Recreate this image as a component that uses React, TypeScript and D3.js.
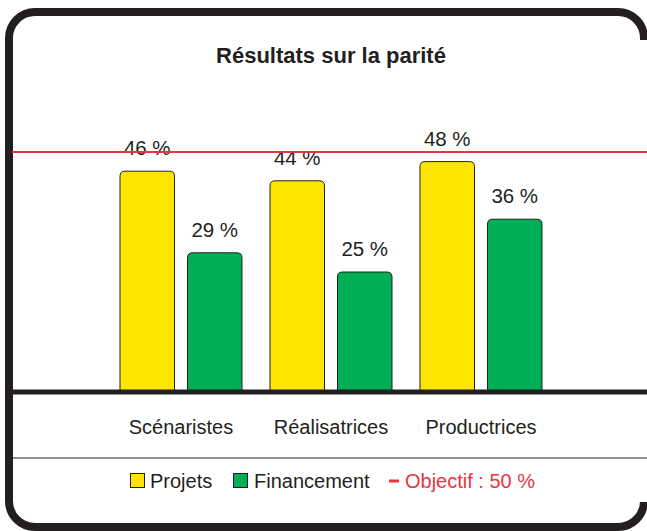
import React from 'react'
import * as d3 from 'd3'

const categories = ['Scénaristes', 'Réalisatrices', 'Productrices']
const seriesNames = ['Projets', 'Financement']
const projets = [46, 44, 48]
const financement = [29, 25, 36]
const objectif = 50
const title = 'Résultats sur la parité'
const objectifLabel = 'Objectif : 50 %'

const COLORS = ['#ffe600', '#00ae56']
const RED = '#e63640'
const INK = '#231f20'
const FONT = '"Liberation Sans", Arial, Helvetica, sans-serif'

const width = 647
const height = 531
const baseline = 392

// rectangle with rounded top corners only
const topRounded = (x: number, y: number, w: number, h: number, r: number) =>
  `M${x},${y + h}V${y + r}Q${x},${y} ${x + r},${y}H${x + w - r}Q${x + w},${y} ${x + w},${y + r}V${y + h}Z`

export default function App() {
  const x0 = d3.scaleBand().domain(categories).range([106, 556])
  const x1 = d3
    .scaleBand()
    .domain(seriesNames)
    .range([14, 136])
    .paddingInner(0.193)
  const y = d3.scaleLinear().domain([0, 50]).range([baseline, 152])

  const rows = categories.map((c, i) => ({ cat: c, values: [projets[i], financement[i]] }))

  return (
    <svg
      width={width}
      height={height}
      style={{ position: 'absolute', left: 0, top: 0, background: '#fff' }}
      fontFamily={FONT}
    >
      {/* frame, its right side is cut off in the original */}
      <rect x={9} y={12} width={635} height={515} rx={26} ry={26} fill="#fff" stroke={INK} strokeWidth={8} />
      <rect x={638} y={40} width={12} height={462} fill="#fff" />

      <text x={331} y={63} textAnchor="middle" fontSize={22} fontWeight="bold" fill={INK}>
        {title}
      </text>

      {rows.map(row => (
        <g key={row.cat} transform={`translate(${x0(row.cat)},0)`}>
          {row.values.map((v, j) => {
            const bx = x1(seriesNames[j]) as number
            const bw = x1.bandwidth()
            return (
              <g key={j}>
                <path
                  d={topRounded(bx, y(v), bw, baseline - y(v), 5)}
                  fill={COLORS[j]}
                  stroke={INK}
                  strokeWidth={1}
                />
                <text
                  x={bx + bw / 2}
                  y={y(v) - 16}
                  textAnchor="middle"
                  fontSize={20.5}
                  fill={INK}
                >
                  {`${v} %`}
                </text>
              </g>
            )
          })}
        </g>
      ))}

      <line x1={12} x2={width} y1={y(objectif)} y2={y(objectif)} stroke={RED} strokeWidth={2} />

      <line x1={12} x2={width} y1={baseline} y2={baseline} stroke={INK} strokeWidth={5} />

      {categories.map(c => (
        <text
          key={c}
          x={(x0(c) as number) + x0.bandwidth() / 2}
          y={434}
          textAnchor="middle"
          fontSize={20}
          fill={INK}
        >
          {c}
        </text>
      ))}

      <line x1={12} x2={width} y1={458} y2={458} stroke={INK} strokeWidth={1} />

      <g fontSize={20}>
        <rect x={130.5} y={473.5} width={14} height={14} fill={COLORS[0]} stroke={INK} />
        <text x={150} y={488} fill={INK}>{seriesNames[0]}</text>
        <rect x={233.5} y={473.5} width={14} height={14} fill={COLORS[1]} stroke={INK} />
        <text x={254} y={488} fill={INK}>{seriesNames[1]}</text>
        <line x1={389} x2={399} y1={481} y2={481} stroke={RED} strokeWidth={3} />
        <text x={405} y={488} fill={RED}>{objectifLabel}</text>
      </g>
    </svg>
  )
}
